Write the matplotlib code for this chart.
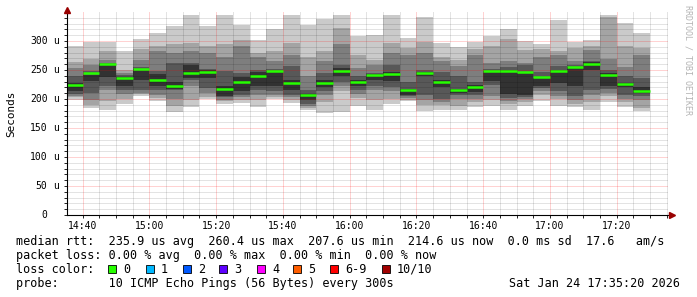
import matplotlib
matplotlib.use("Agg")
import matplotlib.pyplot as plt
from matplotlib.patches import Rectangle
from matplotlib.ticker import FixedLocator

MONO = "DejaVu Sans Mono"

# 5 minute slots starting 14:35 (minutes after 14:00), 10 pings each.
# rtt_pN = N-th smallest ping of the slot, in microseconds
slot_start = 35
slot_len = 5
rtt_p1 = [199, 185, 181, 192, 205, 196, 177, 187, 200, 192, 193, 187, 200, 193, 181, 176, 178, 188,
          181, 192, 196, 180, 181, 181, 187, 188, 181, 188, 197, 188, 186, 181, 194, 186, 180]
rtt_p2 = [204, 189, 197, 200, 208, 201, 188, 199, 204, 196, 198, 199, 203, 198, 185, 195, 213, 202,
          199, 200, 199, 190, 190, 188, 195, 198, 191, 195, 207, 200, 191, 195, 205, 195, 185]
rtt_p3 = [206, 199, 215, 208, 211, 207, 200, 222, 210, 199, 203, 207, 207, 203, 188, 207, 222, 208,
          215, 213, 202, 199, 195, 200, 200, 205, 196, 200, 213, 205, 198, 207, 210, 200, 198]
rtt_p4 = [208, 210, 223, 215, 216, 215, 215, 233, 219, 203, 207, 216, 213, 207, 192, 213, 229, 216,
          223, 221, 205, 207, 200, 207, 207, 225, 201, 204, 219, 213, 205, 215, 217, 207, 205]
rtt_p5 = [213, 231, 238, 223, 232, 223, 218, 236, 236, 206, 213, 222, 222, 215, 199, 220, 239, 222,
          232, 231, 207, 239, 221, 211, 212, 231, 209, 207, 223, 228, 223, 250, 223, 220, 211]
rtt_p6 = [228, 242, 260, 238, 252, 243, 230, 258, 250, 222, 238, 247, 249, 232, 209, 233, 253, 233,
          243, 246, 218, 246, 233, 218, 224, 249, 250, 244, 236, 250, 256, 263, 244, 228, 220]
rtt_p7 = [240, 249, 262, 241, 256, 249, 262, 262, 252, 248, 245, 250, 252, 257, 215, 245, 258, 240,
          245, 259, 229, 250, 246, 240, 229, 252, 256, 258, 246, 257, 259, 265, 250, 240, 236]
rtt_p8 = [254, 259, 267, 245, 267, 282, 279, 282, 279, 273, 292, 272, 265, 276, 239, 265, 294, 253,
          259, 279, 276, 279, 265, 257, 276, 262, 265, 262, 273, 276, 265, 285, 269, 256, 276]
rtt_p9 = [263, 269, 282, 250, 286, 291, 295, 296, 291, 294, 302, 279, 283, 296, 273, 282, 322, 276,
          268, 297, 288, 298, 273, 267, 286, 291, 303, 284, 286, 282, 288, 292, 341, 291, 288]
rtt_p10 = [292, 298, 298, 282, 304, 313, 326, 345, 326, 345, 328, 302, 321, 345, 327, 338, 345, 308,
           311, 345, 305, 341, 297, 289, 299, 308, 321, 300, 295, 336, 299, 302, 345, 331, 313]
median = [225, 244, 259.5, 236.5, 251, 233, 222.7, 244, 246, 217, 230, 239.4, 248, 227, 207.6, 228,
          249, 228.5, 242, 243.5, 214.7, 244, 229, 214.7, 220.5, 247.5, 247.5, 245.8, 238.3, 248, 255,
          260.4, 242, 226, 214.6]

x_range = (35 + 20 / 60, 215 + 20 / 60)   # 14:35:20 .. 17:35:20
xtick_pos = [40, 60, 80, 100, 120, 140, 160, 180, 200]
xtick_labels = ["14:40", "15:00", "15:20", "15:40", "16:00", "16:20", "16:40", "17:00", "17:20"]
xminor_pos = list(range(40, 216, 5))
ytick_pos = [0, 50, 100, 150, 200, 250, 300]
yminor_pos = list(range(10, 350, 10))

legend_lines = [
    "median rtt:  235.9 us avg  260.4 us max  207.6 us min  214.6 us now  0.0 ms sd  17.6   am/s",
    "packet loss: 0.00 % avg  0.00 % max  0.00 % min  0.00 % now",
]
probe_line = "probe:       10 ICMP Echo Pings (56 Bytes) every 300s"
stamp = "Sat Jan 24 17:35:20 2026"
loss_labels = ["0", "1", "2", "3", "4", "5", "6-9", "10/10"]
loss_colors = ["#26ff00", "#00b8ff", "#0059ff", "#5e00ff", "#ff00ff", "#ff5e00", "#ff0000", "#a10000"]
loss_box_x = [108, 146, 183, 219, 257, 293, 330, 382]

smoke_colors = ["#cacaca", "#a4a4a4", "#7e7e7e", "#585858", "#323232"]

W, H = 697, 297
fig = plt.figure(figsize=(W / 100, H / 100), dpi=100)
fig.patch.set_facecolor("white")


def fx(px):
    return px / W


def fy(py):
    return 1 - py / H


ax = fig.add_axes([fx(67), fy(215), (668 - 67) / W, 203 / H])
ax.set_facecolor("white")

ranks = [rtt_p1, rtt_p2, rtt_p3, rtt_p4, rtt_p5, rtt_p6, rtt_p7, rtt_p8, rtt_p9, rtt_p10]
n = len(median)
lefts = [slot_start + i * slot_len for i in range(n)]

# smoke: outer pair lightest, inner pair darkest
for k, color in enumerate(smoke_colors):
    lo = ranks[k]
    hi = ranks[9 - k]
    ax.bar(lefts, [h - l for h, l in zip(hi, lo)], bottom=lo, width=slot_len, align="edge",
           color=color, linewidth=0, zorder=1)

ax.set_xlim(*x_range)
ax.set_ylim(0, 350)

# dotted grid drawn over the smoke, like rrdtool does
dots = (0, (1, 1))
for x in xminor_pos:
    if x not in xtick_pos:
        ax.axvline(x, color="black", alpha=0.22, lw=0.72, ls=dots, zorder=2)
for y in yminor_pos:
    if y not in ytick_pos:
        ax.axhline(y, color="black", alpha=0.22, lw=0.72, ls=dots, zorder=2)
for x in xtick_pos:
    ax.axvline(x, color="red", alpha=0.35, lw=0.72, ls=dots, zorder=2)
for y in ytick_pos[1:]:
    ax.axhline(y, color="red", alpha=0.35, lw=0.72, ls=dots, zorder=2)

ax.hlines(median, lefts, [l + slot_len for l in lefts], color=loss_colors[0], linewidth=1.8,
          zorder=3, capstyle="butt")

ax.set_xticks(xtick_pos, xtick_labels, fontsize=7, family=MONO)
ax.xaxis.set_minor_locator(FixedLocator(xminor_pos))
ax.set_yticks(ytick_pos, [""] * len(ytick_pos))
ax.yaxis.set_minor_locator(FixedLocator(yminor_pos))
ax.tick_params(which="both", direction="out", length=2, width=0.6, pad=2, colors="black")

for s in ax.spines.values():
    s.set_visible(False)

# axes with arrow heads
ax.plot([0, 1.006], [0, 0], transform=ax.transAxes, color="black", lw=0.8, clip_on=False, zorder=4)
ax.plot([0, 0], [0, 1.0], transform=ax.transAxes, color="black", lw=0.8, clip_on=False, zorder=4)
ax.plot([1.006], [0], transform=ax.transAxes, marker=">", ms=4.5, color="#990000",
        clip_on=False, zorder=5)
ax.plot([0], [1.008], transform=ax.transAxes, marker="^", ms=4.5, color="#990000",
        clip_on=False, zorder=5)

# y tick labels
for v in ytick_pos:
    yy = fy(215 - v * 203 / 350)
    fig.text(fx(47.5), yy, str(v), ha="right", va="center", fontsize=7, family=MONO)
    if v:
        fig.text(fx(53.5), yy, "u", ha="left", va="center", fontsize=7, family=MONO)

fig.text(fx(11), fy(114), "Seconds", rotation=90, ha="center", va="center", fontsize=7.9,
         family=MONO)
fig.text(fx(688), fy(5), "RRDTOOL / TOBI OETIKER", rotation=270, ha="center", va="top",
         fontsize=6, family=MONO, color="#b4b4b4")

# legend block
fig.text(fx(16), fy(245), legend_lines[0], fontsize=8.5, family=MONO, va="baseline")
fig.text(fx(16), fy(259), legend_lines[1], fontsize=8.5, family=MONO, va="baseline")
fig.text(fx(16), fy(273), "loss color:", fontsize=8.5, family=MONO, va="baseline")
for bx, lab, col in zip(loss_box_x, loss_labels, loss_colors):
    fig.patches.append(Rectangle((fx(bx), fy(273)), 7.7 / W, 7.7 / H, transform=fig.transFigure,
                                 facecolor=col, edgecolor="black", linewidth=0.6))
    fig.text(fx(bx + 15), fy(273), lab, fontsize=8.5, family=MONO, va="baseline")
fig.text(fx(16), fy(287), probe_line, fontsize=8.5, family=MONO, va="baseline")
fig.text(fx(680), fy(287), stamp, fontsize=8.5, family=MONO, va="baseline", ha="right")

fig.savefig("out.png", dpi=100)
